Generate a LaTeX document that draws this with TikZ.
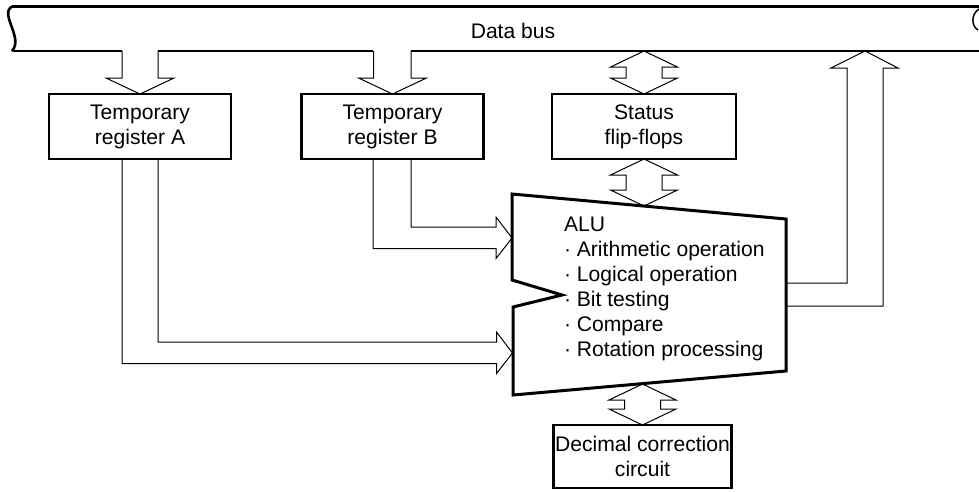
\documentclass[tikz,border=0pt]{standalone}
\usepackage{fontspec}
\setmainfont{Liberation Sans}
\usetikzlibrary{calc}
\newcommand\dblarrow[2]{%
  \draw[blockarrow] let \p1=(#1), \p2=(#2) in
    (\x1,\y1) -- (\x1-33.5pt,\y1-16pt) -- (\x1-18pt,\y1-16pt) -- (\x1-18pt,\y2+16pt)
    -- (\x1-33.5pt,\y2+16pt) -- (\x1,\y2) -- (\x1+33.5pt,\y2+16pt) -- (\x1+18pt,\y2+16pt)
    -- (\x1+18pt,\y1-16pt) -- (\x1+33.5pt,\y1-16pt) -- cycle;}
\begin{document}
\begin{tikzpicture}[x=1pt,y=-1pt,
  every node/.style={font=\fontsize{21.1}{25}\selectfont, inner sep=0pt, outer sep=0pt},
  regbox/.style={draw, line width=2.8pt, minimum width=182pt, minimum height=65pt, align=center},
  blockarrow/.style={draw, line width=1pt, line join=miter},
  busline/.style={line width=2.6pt},
  aluline/.style={anchor=base west}]
\useasboundingbox (0,0) rectangle (979,491);

% data bus
\coordinate (busbot) at (0,51);
\coordinate (busup) at (865,51);
\draw[busline] (12,6.5) -- (985,6.5);
\draw[busline] (12,6.5) .. controls (-1,14) and (24,38) .. (12,51);
\draw[busline] (12,51) -- (122,51);
\draw[busline] (158,51) -- (373,51);
\draw[busline] (411,51) -- (985,51);
\draw[line width=1.5pt] (979,9) .. controls (971,14) and (971,26) .. (978,30);
\node[anchor=base] (bus) at (513,38) {Data bus};

% boxes
\node[regbox] (boxA) at (140,126.5) {Temporary\\register A};
\node[regbox] (boxB) at (392.5,126.5) {Temporary\\register B};
\node[regbox, minimum width=184pt] (status) at (644,126.5) {Status\\flip-flops};
\node[regbox, minimum width=178pt, minimum height=63pt] (dec) at (642.5,456.5) {Decimal correction\\circuit};

% ALU
\coordinate (alutl) at (512,194);
\coordinate (alutr) at (786,219);
\coordinate (alubr) at (786,371);
\coordinate (alubl) at (513,395);
\coordinate (aluN) at (644,206);
\coordinate (aluS) at (642.5,384);
\coordinate (aluinB) at (512,238);
\coordinate (aluinA) at (512.5,353);
\coordinate (aluoutT) at (786,283);
\coordinate (aluoutB) at (786,306);
\draw[line width=3pt, line join=miter] (alutl) -- (alutr) -- (alubr) -- (alubl) -- (513,307) -- (562,295) -- (512,280) -- cycle;
\foreach \t [count=\i from 0] in {ALU, {· Arithmetic operation}, {· Logical operation}, {· Bit testing}, {· Compare}, {· Rotation processing}}
  \node[aluline] (alut\i) at (564,231+25*\i) {\t};

% bus to registers
\draw[blockarrow, shift={(boxA.north)}] (-18,-43) -- (-18,-16) -- (-34,-16) -- (0,0) -- (34,-16) -- (18,-16) -- (18,-43);
\draw[blockarrow, shift={(boxB.north)}] (-19,-43) -- (-19,-16) -- (-34,-16) -- (0,0) -- (34,-16) -- (18.5,-16) -- (18.5,-43);

% double arrows
\dblarrow{status.north |- busbot}{status.north}
\dblarrow{status.south}{aluN}
\dblarrow{aluS}{dec.north}

% registers to ALU
\draw[blockarrow] ($(boxB.south)+(-19.5,0)$) |- ($(aluinB)+(-16,10.5)$) -- ++(0,10) -- (aluinB)
  -- ($(aluinB)+(-16,-21)$) -- ++(0,10) -| ($(boxB.south)+(18.5,0)$);
\draw[blockarrow] ($(boxA.south)+(-18,0)$) |- ($(aluinA)+(-16,10.5)$) -- ++(0,10) -- (aluinA)
  -- ($(aluinA)+(-16,-21)$) -- ++(0,10) -| ($(boxA.south)+(18,0)$);

% ALU to bus
\draw[blockarrow] (aluoutT) -| ($(busup)+(-18,17)$) -- ++(-16,0) -- (busup)
  -- ($(busup)+(33,17)$) -- ++(-15,0) |- (aluoutB);
\end{tikzpicture}
\end{document}
